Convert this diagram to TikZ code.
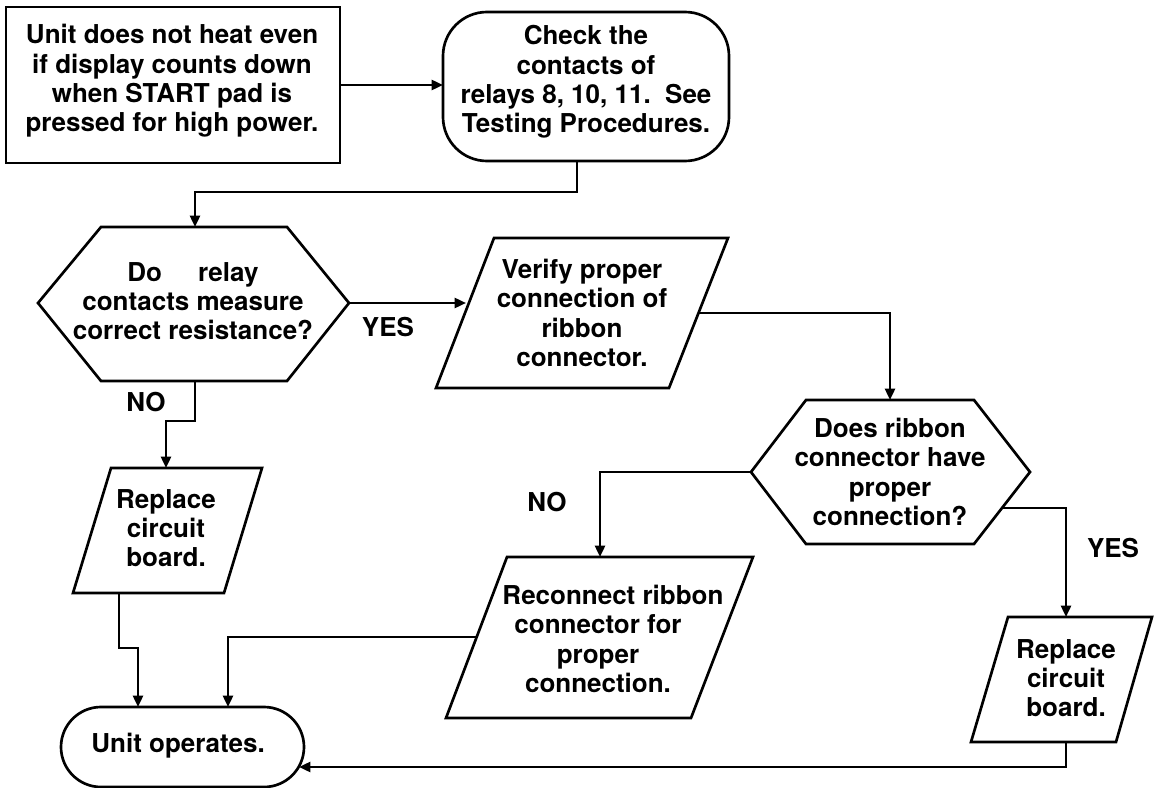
\documentclass[tikz,border=0pt]{standalone}
\usepackage{fontspec}
\setmainfont{TeX Gyre Heros}
\usetikzlibrary{arrows.meta}
\begin{document}
\begin{tikzpicture}[x=0.75pt,y=-0.75pt,
  shapeline/.style={line width=2pt, line join=miter},
  conn/.style={line width=1.8pt, -{Triangle[length=8.5pt,width=7.5pt]}},
  lbl/.style={font=\fontsize{19.5}{22}\selectfont\bfseries, align=center, inner sep=0pt},
]
\useasboundingbox (0,0) rectangle (1156,788);
\fill[white] (0,0) rectangle (1156,788);

% shapes
\draw[shapeline] (6,7) rectangle (340,163);
\draw[shapeline, rounded corners=33pt] (443,12) rectangle (729,161);
\draw[shapeline] (38,303) -- (101,227) -- (287,227) -- (349,303) -- (287,381) -- (101,381) -- cycle;
\draw[shapeline] (494,238) -- (728,238) -- (669,388) -- (436,388) -- cycle;
\draw[shapeline] (751,472) -- (806,400) -- (974,400) -- (1030,472) -- (974,544) -- (806,544) -- cycle;
\draw[shapeline] (111,468) -- (262,468) -- (224,593) -- (73,593) -- cycle;
\draw[shapeline] (507,557) -- (753,557) -- (691,718) -- (446,718) -- cycle;
\draw[shapeline] (1008,617) -- (1152,617) -- (1116,742) -- (971,742) -- cycle;
\draw[shapeline, rounded corners=30pt] (61,707) rectangle (304,787);

% texts
\node[lbl] (ta) at (172,81) {Unit does not heat even\\if display counts down\\when START pad is\\pressed for high power.};
\node[lbl] (tb) at (586,82) {Check the\\contacts of\\relays 8, 10, 11.\ \ See\\Testing Procedures.};
\node[lbl] (th1) at (193,301) {Do\phantom{es} relay\\contacts measure\\correct resistance?};
\node[lbl] (tp1) at (582,313) {Verify proper\\connection of\\ribbon\\connector.};
\node[lbl] (th2) at (890,472) {Does ribbon\\connector have\\proper\\connection?};
\node[lbl] (tr1) at (166,528) {Replace\\circuit\\board.};
\node[lbl] (trc) at (598,639) {\hspace*{22.5pt}Reconnect ribbon\\connector for\\proper\\connection.};
\node[lbl] (tr2) at (1066,678) {Replace\\circuit\\board.};
\node[lbl] (tt) at (178,746) {Unit operates.};
\node[lbl] (yes1) at (388,327) {YES};
\node[lbl] (no1) at (146,402) {NO};
\node[lbl] (no2) at (547,502) {NO};
\node[lbl] (yes2) at (1113,548) {YES};

% connector end points
\coordinate (aR) at (340,85);
\coordinate (bL) at (443,85);
\coordinate (bB) at (577,161);
\coordinate (h1T) at (195,227);
\coordinate (h1R) at (349,303);
\coordinate (p1L) at (466,303);
\coordinate (h1B) at (195,381);
\coordinate (r1T) at (166,468);
\coordinate (p1R) at (698,313);
\coordinate (h2T) at (890,400);
\coordinate (h2L) at (751,472);
\coordinate (rcT) at (600,557);
\coordinate (h2Y) at (1002,508);
\coordinate (r2T) at (1066,617);
\coordinate (r1B) at (119,593);
\coordinate (tT1) at (138,707);
\coordinate (rcL) at (477,637);
\coordinate (tT2) at (228,707);
\coordinate (r2B) at (1066,742);
\coordinate (tR) at (299,767);

% connectors
\draw[conn] (aR) -- (bL);
\draw[conn] (bB) -- ++(0,31) -| (h1T);
\draw[conn] (h1R) -- (p1L);
\draw[conn] (h1B) -- ++(0,40) -| (r1T);
\draw[conn] (p1R) -| (h2T);
\draw[conn] (h2L) -| (rcT);
\draw[conn] (h2Y) -| (r2T);
\draw[conn] (r1B) -- ++(0,55) -| (tT1);
\draw[conn] (rcL) -| (tT2);
\draw[conn] (r2B) |- (tR);
\end{tikzpicture}
\end{document}
